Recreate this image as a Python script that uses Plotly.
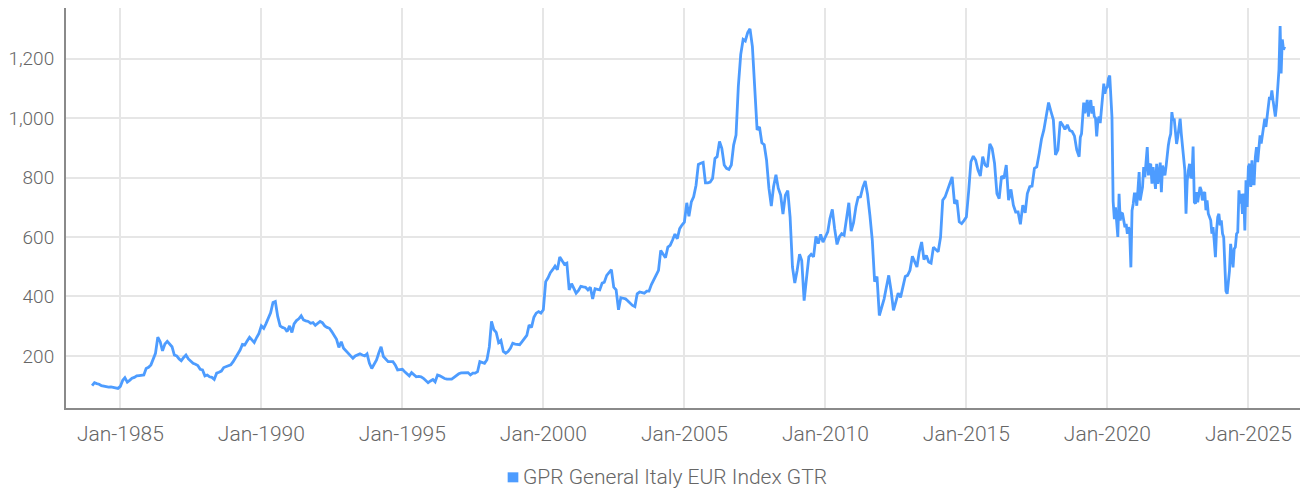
import pandas as pd
import plotly.graph_objects as go

# ---- Data ----
# Monthly index values, Jan 1984 .. Dec 2018
idx_1984_1993 = [
    100, 110, 107, 105, 100, 98, 96, 95, 96, 95, 92, 91,            # 1984
    98, 118, 127, 112, 118, 125, 128, 133, 134, 135, 136, 158,       # 1985
    162, 170, 187, 209, 263, 248, 217, 240, 249, 238, 231, 203,      # 1986
    200, 190, 184, 195, 203, 190, 184, 175, 172, 168, 155, 153,      # 1987
    133, 136, 130, 128, 121, 142, 145, 149, 161, 164, 168, 170,      # 1988
    181, 195, 203, 220, 239, 237, 250, 263, 254, 245, 262, 276,      # 1989
    301, 293, 308, 325, 345, 380, 383, 333, 301, 296, 293, 282,      # 1990
    301, 279, 308, 319, 325, 335, 321, 318, 316, 310, 312, 303,      # 1991
    310, 316, 312, 301, 296, 293, 282, 270, 256, 229, 248, 226,      # 1992
    218, 209, 200, 192, 200, 204, 207, 203, 200, 207, 175, 158,      # 1993
]
idx_1994_2003 = [
    175, 187, 209, 231, 198, 190, 181, 181, 181, 170, 153, 154,      # 1994
    155, 147, 140, 133, 144, 136, 130, 131, 130, 125, 118, 110,      # 1995
    116, 121, 113, 136, 133, 128, 124, 122, 121, 122, 128, 135,      # 1996
    140, 143, 144, 144, 144, 136, 142, 142, 147, 181, 178, 175,      # 1997
    187, 231, 316, 288, 279, 245, 252, 215, 209, 215, 226, 243,      # 1998
    240, 239, 238, 248, 260, 269, 304, 296, 330, 344, 349, 344,      # 1999
    355, 450, 462, 480, 490, 502, 490, 533, 520, 508, 512, 422,      # 2000
    443, 425, 411, 420, 434, 432, 431, 422, 431, 392, 426, 424,      # 2001
    422, 445, 448, 471, 480, 490, 431, 422, 355, 396, 394, 392,      # 2002
    385, 375, 370, 366, 409, 415, 413, 411, 418, 418, 440, 454,      # 2003
]
idx_2004_2013 = [
    471, 488, 555, 540, 530, 566, 572, 590, 610, 594, 628, 640,      # 2004
    650, 715, 670, 718, 735, 774, 844, 848, 851, 782, 782, 785,      # 2005
    797, 864, 870, 921, 898, 842, 831, 827, 842, 909, 943, 1107,     # 2006
    1214, 1264, 1259, 1287, 1300, 1240, 1080, 960, 970, 917, 910, 859,  # 2007
    764, 704, 769, 809, 764, 741, 677, 741, 756, 668, 499, 445,      # 2008
    488, 542, 521, 386, 459, 533, 542, 533, 602, 578, 609, 583,      # 2009
    600, 617, 662, 693, 628, 575, 600, 611, 606, 659, 715, 620,      # 2010
    648, 702, 733, 735, 767, 788, 744, 673, 589, 450, 467, 336,      # 2011
    364, 392, 431, 471, 420, 353, 381, 411, 397, 437, 467, 471,      # 2012
    488, 535, 519, 499, 550, 583, 524, 538, 516, 512, 566, 557,      # 2013
]
idx_2014_2018 = [
    550, 600, 724, 735, 758, 782, 802, 712, 724, 651, 645, 655,      # 2014
    667, 757, 853, 872, 859, 825, 805, 870, 842, 836, 913, 898,      # 2015
    848, 746, 729, 805, 797, 842, 724, 760, 707, 684, 684, 643,      # 2016
    707, 681, 746, 769, 771, 831, 836, 880, 930, 960, 1005, 1052,    # 2017
    1022, 994, 876, 893, 988, 977, 962, 977, 958, 955, 940, 893,     # 2018
]
# Semi-monthly values (1st and 16th of each month), Jan 2019 .. Apr 2026
idx_2019_2026 = [
    870, 935, 947, 990, 1052, 1016, 1035, 1061, 1005, 1045, 1060, 1015,
    1040, 1005, 1000, 938, 992, 1005, 983, 1026, 1060, 1116, 1082, 1100,   # 2019
    1104, 1133, 1143, 1085, 1003, 720, 660, 700, 640, 600, 745, 655,
    680, 678, 655, 633, 644, 611, 633, 621, 498, 689, 711, 745,            # 2020
    745, 705, 760, 818, 723, 745, 768, 835, 801, 850, 902, 807,
    841, 846, 779, 835, 800, 762, 846, 779, 810, 850, 751, 840,            # 2021
    824, 807, 840, 890, 908, 931, 947, 1020, 992, 998, 942, 913,
    936, 959, 998, 947, 902, 846, 824, 678, 790, 824, 846, 801,            # 2022
    800, 904, 717, 712, 751, 717, 746, 768, 757, 723, 746, 751,
    690, 723, 678, 667, 656, 611, 633, 588, 532, 622, 667, 678,            # 2023
    639, 656, 611, 599, 498, 419, 409, 450, 487, 577, 521, 498,
    560, 566, 611, 616, 757, 712, 745, 678, 746, 622, 791, 701,            # 2024
    836, 846, 768, 858, 779, 779, 869, 902, 852, 915, 942, 914,
    943, 959, 998, 970, 1011, 1048, 1071, 1061, 1093, 1060, 1039, 1005,    # 2025
    1043, 1095, 1163, 1309, 1150, 1264, 1230, 1240,                        # 2026
]
series_name = "GPR General Italy EUR Index GTR"
y_ticks = [200, 400, 600, 800, 1000, 1200]

# ---- Build the x dates ----
monthly_values = idx_1984_1993 + idx_1994_2003 + idx_2004_2013 + idx_2014_2018
monthly_dates = list(pd.date_range("1984-01-01", periods=len(monthly_values), freq="MS"))
semi_dates = []
for m in pd.date_range("2019-01-01", "2026-12-01", freq="MS"):
    semi_dates.append(m)
    semi_dates.append(m + pd.Timedelta(days=15))
semi_dates = semi_dates[:len(idx_2019_2026)]

x_all = monthly_dates + semi_dates
y_all = monthly_values + idx_2019_2026

LINE_COLOR = "#4d9cff"
FONT = "Roboto"
TEXT_COLOR = "#666666"

fig = go.Figure()
fig.add_trace(go.Scatter(
    x=x_all, y=y_all, mode="lines", name=series_name,
    line=dict(color=LINE_COLOR, width=2.8), showlegend=False,
))

# legend: square swatch + label below the plot
fig.add_shape(type="rect", xref="paper", yref="paper",
              x0=0.3556, x1=0.3642, y0=-0.1858, y1=-0.1608,
              fillcolor=LINE_COLOR, line=dict(width=0))
fig.add_annotation(text=series_name, xref="paper", yref="paper",
                   x=0.3665, y=-0.1735, xanchor="left", yanchor="middle",
                   showarrow=False,
                   font=dict(family=FONT, size=21, color=TEXT_COLOR, weight=300))

# the page body adds an 8px offset, so the figure is 8px smaller than the window
fig.update_layout(
    width=1300, height=485,
    margin=dict(l=58, r=0, t=0, b=85),
    paper_bgcolor="white", plot_bgcolor="white",
    font=dict(family=FONT, color=TEXT_COLOR, size=21, weight=300),
    showlegend=False,
)
fig.update_xaxes(
    type="date", range=["1983-01-28", "2027-02-12"],
    tick0="1985-01-01", dtick="M60", tickformat="%b-%Y",
    showgrid=True, gridcolor="#e6e6e6", gridwidth=2,
    showline=True, linecolor="#8a8a8a", linewidth=2,
    ticks="", ticklabelstandoff=6, zeroline=False, automargin=False,
    tickfont=dict(family=FONT, size=21, color=TEXT_COLOR, weight=300),
)
fig.update_yaxes(
    range=[25, 1370], tickvals=y_ticks, tickformat=",",
    showgrid=True, gridcolor="#e6e6e6", gridwidth=2,
    showline=True, linecolor="#8a8a8a", linewidth=2,
    ticks="", ticklabelstandoff=6, zeroline=False, automargin=False,
    tickfont=dict(family=FONT, size=19, color=TEXT_COLOR, weight=300),
)

fig.write_html("out.html")
